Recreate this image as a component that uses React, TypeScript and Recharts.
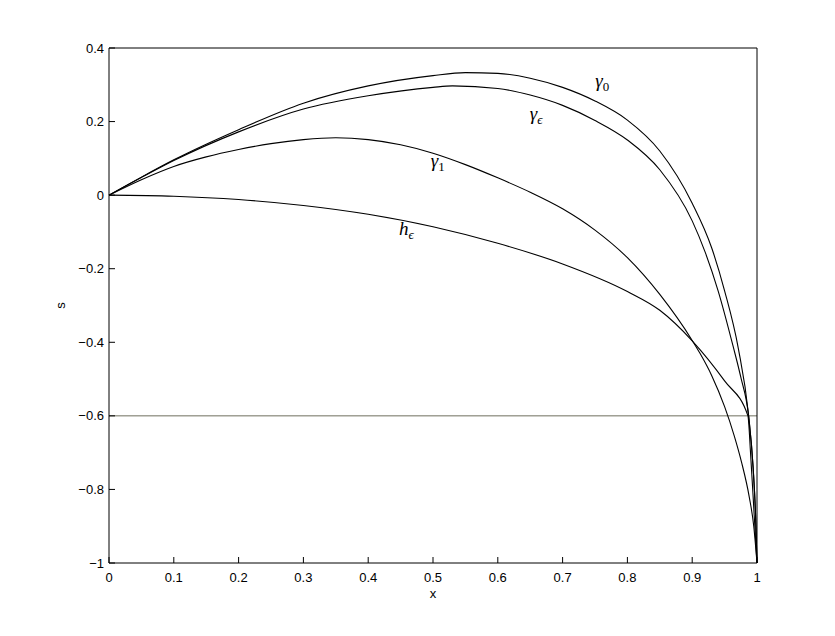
import { LineChart, Line, XAxis, YAxis, ReferenceLine, ReferenceDot } from 'recharts';

// axis ticks
const xTicks = [0, 0.1, 0.2, 0.3, 0.4, 0.5, 0.6, 0.7, 0.8, 0.9, 1];
const yTicks = [-1, -0.8, -0.6, -0.4, -0.2, 0, 0.2, 0.4];

// horizontal level
const levelS = -0.6;

// curves
const gamma0X = [0, 0.05, 0.1, 0.2, 0.3, 0.4, 0.5, 0.55, 0.6, 0.65, 0.7, 0.75, 0.8, 0.85, 0.9, 0.93, 0.95, 0.971, 0.987, 0.994, 0.998, 1];
const gamma0Y = [0, 0.049, 0.096, 0.178, 0.25, 0.297, 0.325, 0.333, 0.331, 0.318, 0.293, 0.256, 0.204, 0.12, -0.022, -0.143, -0.26, -0.415, -0.598, -0.74, -0.88, -1];

const gammaEpsX = [0, 0.05, 0.1, 0.2, 0.3, 0.4, 0.5, 0.53, 0.6, 0.65, 0.7, 0.75, 0.8, 0.85, 0.9, 0.92, 0.94, 0.963, 0.975, 0.987, 0.994, 0.998, 1];
const gammaEpsY = [0, 0.048, 0.094, 0.172, 0.234, 0.27, 0.293, 0.297, 0.29, 0.272, 0.244, 0.203, 0.15, 0.069, -0.07, -0.155, -0.26, -0.41, -0.495, -0.6, -0.74, -0.88, -1];

const gamma1X = [0, 0.05, 0.1, 0.15, 0.2, 0.25, 0.3, 0.35, 0.4, 0.45, 0.5, 0.55, 0.6, 0.65, 0.7, 0.75, 0.8, 0.85, 0.9, 0.912, 0.93, 0.95, 0.965, 0.976, 0.988, 0.995, 1];
const gamma1Y = [0, 0.042, 0.078, 0.104, 0.124, 0.14, 0.151, 0.156, 0.151, 0.137, 0.114, 0.083, 0.047, 0.008, -0.037, -0.095, -0.17, -0.27, -0.395, -0.43, -0.49, -0.575, -0.655, -0.725, -0.82, -0.9, -1];

const hEpsX = [0, 0.1, 0.2, 0.3, 0.4, 0.5, 0.6, 0.7, 0.8, 0.85, 0.9, 0.95, 0.986, 0.99, 0.995, 1];
const hEpsY = [0, -0.003, -0.012, -0.028, -0.052, -0.086, -0.131, -0.187, -0.262, -0.313, -0.396, -0.505, -0.6, -0.7, -0.85, -1];

// curve annotations
const labelBase = ['γ', 'γ', 'γ', 'h'];
const labelSub = ['0', 'ϵ', '1', 'ϵ'];
const labelX = [0.752, 0.651, 0.498, 0.449];
const labelY = [0.291, 0.202, 0.074, -0.111];

const toPoints = (xs: number[], ys: number[]) => xs.map((x, i) => ({ x, y: ys[i] }));

const series = [
  { name: 'gamma0', data: toPoints(gamma0X, gamma0Y) },
  { name: 'gammaEps', data: toPoints(gammaEpsX, gammaEpsY) },
  { name: 'gamma1', data: toPoints(gamma1X, gamma1Y) },
  { name: 'hEps', data: toPoints(hEpsX, hEpsY) },
];

const tickFont = { fontFamily: 'Liberation Sans, Arial, sans-serif', fontSize: 13, fill: '#000' };

const fmt = (v: number) => String(Math.round(v * 10) / 10).replace('-', '−');

function CurveLabel({ viewBox, base, sub }: any) {
  if (!viewBox) return null;
  return (
    <text x={viewBox.x} y={viewBox.y} fontFamily="Liberation Serif, Times New Roman, serif" fontSize={19} fill="#000">
      <tspan fontStyle="italic">{base}</tspan>
      <tspan fontSize={13} dy={4} fontStyle={sub === 'ϵ' ? 'italic' : 'normal'}>{sub}</tspan>
    </text>
  );
}

export default function App() {
  return (
    <div style={{ position: 'absolute', left: 0, top: 0, width: 835, height: 636, background: '#fff' }}>
      <LineChart width={835} height={636} margin={{ top: 47, right: 77, bottom: 33, left: 49 }}>
        <XAxis
          xAxisId="bottom"
          type="number"
          dataKey="x"
          domain={[0, 1]}
          ticks={xTicks}
          interval={0}
          height={40}
          tickSize={-6}
          tickMargin={16}
          tick={tickFont}
          tickFormatter={fmt}
          stroke="#000"
          allowDuplicatedCategory={false}
          label={{
            content: ({ viewBox }: any) => (
              <text x={viewBox.x + viewBox.width / 2} y={viewBox.y + 35} textAnchor="middle" {...tickFont}>x</text>
            ),
          }}
        />
        <XAxis
          xAxisId="top"
          orientation="top"
          type="number"
          dataKey="x"
          domain={[0, 1]}
          ticks={xTicks}
          interval={0}
          height={1}
          tickSize={-6}
          tick={false}
          stroke="#000"
        />
        <YAxis
          yAxisId="left"
          type="number"
          domain={[-1, 0.4]}
          ticks={yTicks}
          interval={0}
          width={60}
          tickSize={-6}
          tickMargin={11}
          tick={tickFont}
          tickFormatter={fmt}
          stroke="#000"
          label={{
            content: ({ viewBox }: any) => {
              const cx = viewBox.x + 16;
              const cy = viewBox.y + viewBox.height / 2;
              return (
                <text x={cx} y={cy} textAnchor="middle" transform={`rotate(-90 ${cx} ${cy})`} {...tickFont}>s</text>
              );
            },
          }}
        />
        <YAxis
          yAxisId="right"
          orientation="right"
          type="number"
          domain={[-1, 0.4]}
          ticks={yTicks}
          interval={0}
          width={1}
          tickSize={-6}
          tick={false}
          stroke="#000"
        />
        <ReferenceLine xAxisId="bottom" yAxisId="left" y={levelS} stroke="#6e6e5e" strokeWidth={1} />
        {series.map((s) => (
          <Line
            key={s.name}
            xAxisId="bottom"
            yAxisId="left"
            data={s.data}
            dataKey="y"
            type="monotone"
            stroke="#000"
            strokeWidth={1.1}
            dot={false}
            activeDot={false}
            isAnimationActive={false}
          />
        ))}
        {labelBase.map((b, i) => (
          <ReferenceDot
            key={'lbl' + i}
            xAxisId="bottom"
            yAxisId="left"
            x={labelX[i]}
            y={labelY[i]}
            r={1}
            fill="none"
            stroke="none"
            label={{ content: (p: any) => <CurveLabel viewBox={p.viewBox} base={b} sub={labelSub[i]} /> }}
          />
        ))}
      </LineChart>
    </div>
  );
}
